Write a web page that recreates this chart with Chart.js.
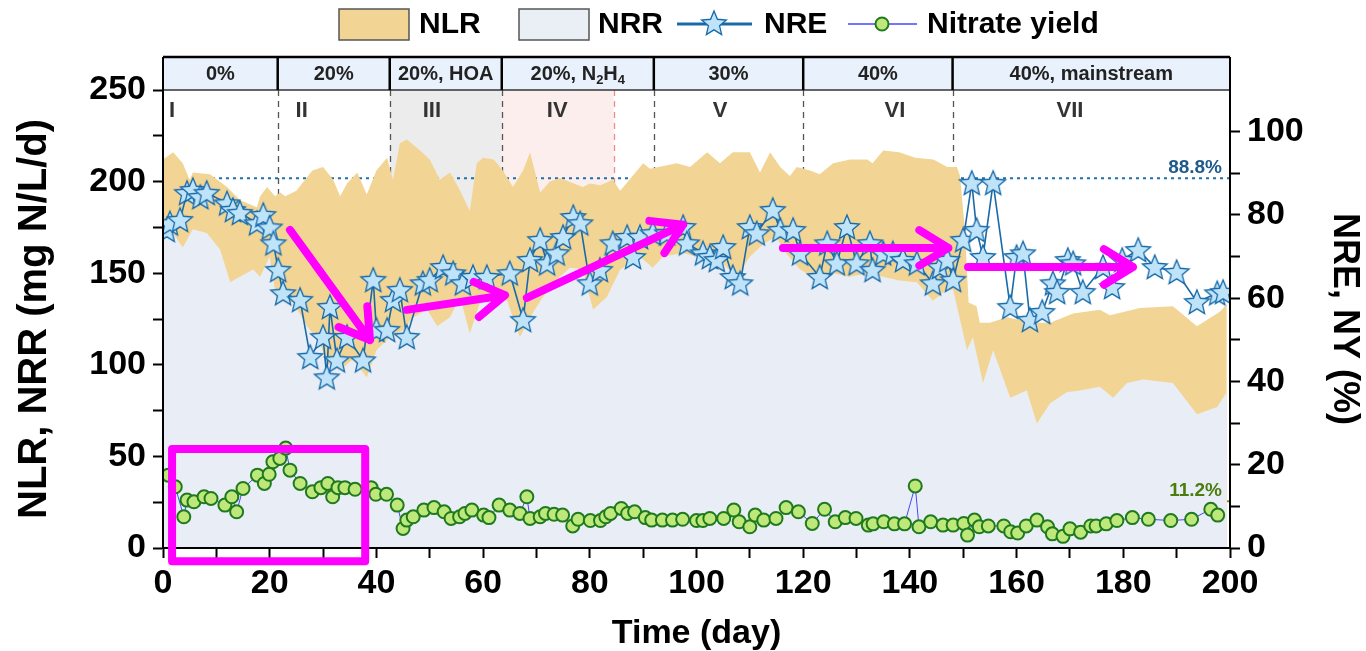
<!DOCTYPE html>
<html>
<head>
<meta charset="utf-8">
<script src="https://cdn.jsdelivr.net/npm/chart.js@4.4.1/dist/chart.umd.min.js"></script>
<style>
  html, body { margin: 0; padding: 0; background: #fff; }
  #wrap { width: 1366px; height: 651px; }
</style>
</head>
<body>
<div id="wrap"><canvas id="chart" width="1366" height="651"></canvas></div>
<script>
const nlrDays = [0,1.9,3.7,5,5.6,8.8,12,14.4,17.6,18.2,19.5,21,22,22.9,25,28,30,31.9,33.2,34.5,36.4,38.2,40,42,43.1,44.4,45.7,48.2,50,51.9,53.8,55.7,57.5,58.8,60,62,63.7,65.6,67.5,68.8,70.7,72.5,74.4,78.7,80,82,84.3,85.7,90,91.3,96.3,98.8,102,104.4,106.8,110,111.9,113.8,115.7,117.5,118.8,121.3,123.1,125.6,128.8,132,133,135,138,141,144.4,147,148.8,149.4,150.3,151,152.5,153.1,155,158.2,161.2,164.4,166.3,170.6,175.6,177.5,183.1,189.3,193.8,198.1,199.4];
const nlrValues = [212,216,210,201,205,204,197,190,186,192,197,192,194,192,195,206,208,201,192,199,205,193,206,213,201,221,223,217,212,201,205,195,184,210,213,212,206,197,206,216,194,200,202,197,199,198,201,195,210,207,210,208,216,210,216,216,205,216,208,203,208,206,204,210,212,212,210,217,216,213,212,208,208,203,174,134,132,123,123,126,124,123,123,128,130,127,131,132,121,129,133];

// NRR (removal rate, mg N/L/d)
const nrrDays = [0,1.9,3.7,5.6,8.2,10.7,12.6,14.4,16.9,18.2,20,21.3,24.4,27,29.4,30.7,33.2,35.6,38.2,40,42.5,45,46.9,49.5,51.4,53.8,55.7,57.5,59.4,62,64.5,66.9,68.8,71.2,74.4,76.3,78.7,80.6,83.2,85.7,89.4,91.8,93.7,97.5,100,102.5,105,107.6,110,112.5,115,116.2,119.4,121.8,125.6,128.8,132,135,138,141.3,144.3,147,148.1,150,150.7,151.8,153.7,155.6,158.8,161.9,163.8,166.3,169.4,171.9,175.6,178.1,180.7,183.7,189.3,193.8,197.6,199.4];
const nrrValues = [168,172,164,174,172,163,145,148,152,148,159,135,134,121,112,101,97,103,93,108,115,119,126,130,121,126,137,117,134,137,135,115,126,137,148,153,152,130,137,152,159,153,159,161,159,157,155,148,159,166,170,163,152,148,150,148,150,148,146,145,135,141,141,117,108,115,90,108,82,86,68,79,85,86,88,82,90,92,90,73,77,85];

// NRE (%)
const nreDays = [0.7,1.3,3.2,4.5,5.6,7,8.2,12,13.1,14.4,17.6,18.8,20,20.7,21.6,22.5,25.7,27.6,30,30.7,31.3,32.6,34.5,37.5,39.4,40,42,43.1,44.4,45.7,48.7,50,52.5,54.4,56.2,58.1,60.7,65,67.5,68.8,70.7,72,73.8,75,76.9,78.2,80,81.9,84.3,87,88.1,89.4,91.8,94.5,97.5,98.2,101.2,102.5,103.8,105,106.8,108.2,110,111.3,114.3,115.7,118.1,119.4,123.1,124.5,126.3,128.2,130,132.5,133,135,136.8,138.7,141.3,144.3,145.6,147,148.1,150,151.6,152.5,153.7,155.6,158.8,160,161.2,162.5,164.8,166.8,167.6,169.6,170.6,172.4,176.2,177.9,179.8,182.8,185.9,190,193.8,197.6,198.7];
const nreValues = [76.4,78,78.8,85.3,86,84.3,85.3,82.8,81.2,80.5,78,80,77,73.2,66.8,61.2,59.6,45.9,50.7,41,57.9,45.1,50.7,45.1,64.4,52.4,52.4,59.6,62,50.7,63.6,64.4,67.5,66,63.6,65.1,65.1,66,54.8,69.2,74,68.4,70.8,74.7,79.5,78,63.6,66.8,73.2,74.7,69.9,74.7,75.6,75.6,77.1,73.2,70.8,69.9,69.2,72.3,65.1,63.6,77.1,75.6,81.2,76.4,76.4,70.8,65.1,73.2,68.4,77.1,68.4,73.2,66.8,70.8,70.8,69.2,68.4,63.6,67.5,69.2,64.4,74,87.7,76.4,69.9,87.7,57.9,69.9,70.8,54.8,56.7,63.6,61.5,69.2,68.4,61.5,67.5,62.7,69.2,71.6,67.5,66.3,59.1,61.2,61.5];

// Nitrate yield (%)
const nyDays = [1,2.3,3.9,4.5,5.8,7.7,9,11.6,12.9,13.8,15,17.7,19,19.9,20.6,21.9,23,23.8,25.7,28,29.6,30.9,31.8,32.8,34.1,36,39,39.9,41.9,43.9,45,45.7,46.9,48.9,50.8,52.7,54,55.6,56.6,57.9,60.1,61.1,63,65,66.9,68.2,68.8,70.7,71.7,73.3,74.9,76.8,77.8,80.1,82,83,83.9,85.9,87.1,88.4,90.4,91.6,93.6,95.5,97.4,100,101.2,102.5,105.1,107,108,110,111,112.6,114.9,116.8,119.1,121.7,124,126,127.9,129.9,132.2,133.1,135.1,137.1,139,141,141.7,143.9,146.2,148.1,150.1,150.8,152.1,153,154.7,157.6,158.9,160.2,161.8,163.8,165.8,166.7,168.7,170,172,173.9,174.9,176.8,178.8,181.7,184.7,188.9,192.8,196.4,197.7];
const nyValues = [17.5,14.7,7.5,11.5,11.1,12.3,11.9,10.3,12.3,8.7,14.3,17.5,15.5,17.7,20.7,21.5,24,18.7,15.5,13.5,14.5,15.5,12.3,14.5,14.5,14.1,14.5,12.9,12.9,10.3,4.7,6.7,7.5,9.1,9.7,8.7,7.1,7.5,8.3,9.1,7.9,7.3,10.3,9.1,8.3,12.3,7.1,7.5,8.3,8.1,7.9,5.3,6.9,6.6,6.6,7.5,8.3,9.5,8.3,8.7,7.3,6.7,6.7,6.7,6.9,6.6,6.6,7.1,7.1,9.1,6.3,5.1,7.9,6.7,7.1,9.7,8.7,5.9,9.3,6.3,7.3,7.1,5.5,5.8,6.3,5.8,5.8,14.9,5.1,6.3,5.5,5.5,5.9,3.1,6.7,5.1,5.3,5.3,3.9,3.6,5.3,6.7,5.1,3.4,2.8,4.6,3.8,5.3,5.3,5.8,6.6,7.3,6.9,6.6,6.9,9.3,7.9];

// operating phases (days) and their labels
const phaseEdges = [0, 21.5, 42.5, 63.5, 92, 120, 148, 200];
const phaseNames = ['0%', '20%', '20%, HOA', '20%, N2H4', '30%', '40%', '40%, mainstream'];
const stageNames = ['I', 'II', 'III', 'IV', 'V', 'VI', 'VII'];
const stageAt = [1.7, 26, 50.4, 73.9, 104.4, 137.2, 170];
const hydrazineEnd = 84.5;
const nreAverage = 88.8;
const nyAverage = 11.2;

const FONT = '"Liberation Sans", Arial, sans-serif';
const HEADER_H = 33;

function pts(xs, ys) {
    return xs.map((d, i) => ({x: d, y: ys[i]}));
}

// filled 5 point star for the NRE markers
function makeStar(r) {
    const c = document.createElement('canvas');
    const s = Math.ceil(r * 2 + 4);
    c.width = s; c.height = s;
    const g = c.getContext('2d');
    g.beginPath();
    for (let i = 0; i < 10; i++) {
        const rad = i % 2 === 0 ? r : r * 0.45;
        const ang = -Math.PI / 2 + i * Math.PI / 5;
        const px = s / 2 + rad * Math.cos(ang);
        const py = s / 2 + 1 + rad * Math.sin(ang);
        if (i === 0) g.moveTo(px, py); else g.lineTo(px, py);
    }
    g.closePath();
    g.fillStyle = '#bfe4fa';
    g.fill();
    g.lineWidth = 1.3;
    g.strokeStyle = '#1769a8';
    g.stroke();
    return c;
}
const starImg = makeStar(13);

function arrow(ctx, x1, y1, x2, y2) {
    const a = Math.atan2(y2 - y1, x2 - x1);
    const h = 34;
    ctx.beginPath();
    ctx.moveTo(x1, y1);
    ctx.lineTo(x2, y2);
    ctx.moveTo(x2 - h * Math.cos(a - 0.55), y2 - h * Math.sin(a - 0.55));
    ctx.lineTo(x2, y2);
    ctx.lineTo(x2 - h * Math.cos(a + 0.55), y2 - h * Math.sin(a + 0.55));
    ctx.stroke();
}

const decor = {
    id: 'decor',
    beforeDraw(chart) {
        const {ctx, chartArea: a, scales: {x}} = chart;
        ctx.save();
        // HOA and N2H4 shaded periods
        ctx.fillStyle = '#ececec';
        ctx.fillRect(x.getPixelForValue(42.5), a.top, x.getPixelForValue(63.5) - x.getPixelForValue(42.5), a.bottom - a.top);
        ctx.fillStyle = '#fdeeee';
        ctx.fillRect(x.getPixelForValue(63.5), a.top, x.getPixelForValue(hydrazineEnd) - x.getPixelForValue(63.5), a.bottom - a.top);
        ctx.restore();
    },
    beforeDatasetsDraw(chart) {
        const {ctx, chartArea: a, scales: {x, y2}} = chart;
        ctx.save();
        ctx.lineWidth = 1.3;
        ctx.setLineDash([6, 5]);
        ctx.strokeStyle = '#555';
        for (let i = 1; i < phaseEdges.length - 1; i++) {
            const px = Math.round(x.getPixelForValue(phaseEdges[i])) + 0.5;
            ctx.beginPath(); ctx.moveTo(px, a.top); ctx.lineTo(px, a.bottom); ctx.stroke();
        }
        ctx.strokeStyle = '#f08a8a';
        const rx = Math.round(x.getPixelForValue(hydrazineEnd)) + 0.5;
        ctx.beginPath(); ctx.moveTo(rx, a.top); ctx.lineTo(rx, a.bottom); ctx.stroke();

        // average lines
        ctx.lineWidth = 2;
        ctx.setLineDash([3, 4]);
        ctx.strokeStyle = '#1f6fa8';
        let py = y2.getPixelForValue(nreAverage);
        ctx.beginPath(); ctx.moveTo(a.left, py); ctx.lineTo(a.right, py); ctx.stroke();
        ctx.strokeStyle = '#6e9e1c';
        py = y2.getPixelForValue(nyAverage);
        ctx.beginPath(); ctx.moveTo(a.left, py); ctx.lineTo(a.right, py); ctx.stroke();
        ctx.restore();
    },
    afterDatasetsDraw(chart) {
        const {ctx, chartArea: a, scales: {x, y, y2}} = chart;
        ctx.save();
        // labels of the average lines
        ctx.font = 'bold 19px ' + FONT;
        ctx.textAlign = 'right';
        ctx.textBaseline = 'middle';
        ctx.fillStyle = '#1e5a8a';
        ctx.fillText(nreAverage.toFixed(1) + '%', a.right - 8, y2.getPixelForValue(nreAverage) - 11);
        ctx.fillStyle = '#4a7d0c';
        ctx.fillText(nyAverage.toFixed(1) + '%', a.right - 8, y2.getPixelForValue(nyAverage) - 11);

        // header band with the phase names
        const top = a.top - HEADER_H;
        ctx.fillStyle = '#e9f2fc';
        ctx.fillRect(a.left, top, a.right - a.left, HEADER_H);
        ctx.strokeStyle = '#333';
        ctx.lineWidth = 1.5;
        ctx.beginPath(); ctx.moveTo(a.left, a.top); ctx.lineTo(a.right, a.top); ctx.stroke();
        ctx.strokeStyle = '#000';
        ctx.lineWidth = 2.5;
        ctx.beginPath(); ctx.moveTo(a.left, top); ctx.lineTo(a.right, top); ctx.stroke();
        for (let i = 1; i < phaseEdges.length - 1; i++) {
            const px = x.getPixelForValue(phaseEdges[i]);
            ctx.beginPath(); ctx.moveTo(px, top); ctx.lineTo(px, a.top); ctx.stroke();
        }
        // plot frame
        ctx.lineWidth = 2;
        ctx.beginPath();
        ctx.moveTo(a.left, top); ctx.lineTo(a.left, a.bottom); ctx.lineTo(a.right, a.bottom); ctx.lineTo(a.right, top);
        ctx.stroke();

        ctx.fillStyle = '#222';
        ctx.textAlign = 'left';
        const midY = top + HEADER_H / 2 + 1;
        phaseNames.forEach((name, i) => {
            const cx = (x.getPixelForValue(phaseEdges[i]) + x.getPixelForValue(phaseEdges[i + 1])) / 2;
            const big = 'bold 20px ' + FONT, small = 'bold 13px ' + FONT;
            // N2H4 gets subscripts
            const parts = name === '20%, N2H4'
                ? [['20%, N', big, 0], ['2', small, 6], ['H', big, 0], ['4', small, 6]]
                : [[name, big, 0]];
            let w = 0;
            parts.forEach(p => { ctx.font = p[1]; w += ctx.measureText(p[0]).width; });
            let px = cx - w / 2;
            parts.forEach(p => {
                ctx.font = p[1];
                ctx.fillText(p[0], px, midY + p[2]);
                px += ctx.measureText(p[0]).width;
            });
        });

        // stage numerals
        ctx.font = 'bold 22px ' + FONT;
        ctx.fillStyle = '#333';
        ctx.textAlign = 'center';
        stageNames.forEach((s, i) => {
            ctx.fillText(s, x.getPixelForValue(stageAt[i]), a.top + 21);
        });

        // magenta trend arrows and highlight box
        ctx.strokeStyle = '#ff00ff';
        ctx.lineWidth = 8;
        ctx.lineCap = 'round';
        ctx.lineJoin = 'round';
        const trends = [[23.8, 173.6, 38.8, 113.5], [45.7, 130, 64.1, 138], [68.2, 136.5, 97.5, 176.5], [116.2, 163.8, 147.2, 163.8], [150.9, 153.4, 181.8, 153.4]];
        trends.forEach(t => arrow(ctx, x.getPixelForValue(t[0]), y.getPixelForValue(t[1]), x.getPixelForValue(t[2]), y.getPixelForValue(t[3])));
        const bx1 = x.getPixelForValue(1.7), bx2 = x.getPixelForValue(37.9);
        const by1 = y.getPixelForValue(54), by2 = y.getPixelForValue(-7.3);
        ctx.strokeRect(bx1, by1, bx2 - bx1, by2 - by1);
        ctx.restore();
    },
    afterDraw(chart) {
        // legend: NLR box, NRR box, NRE line+star, Nitrate yield line+circle
        const ctx = chart.ctx;
        const ly = 24;
        ctx.save();
        ctx.font = 'bold 30px ' + FONT;
        ctx.textBaseline = 'middle';
        ctx.lineWidth = 1.5;
        ctx.strokeStyle = '#555';
        ctx.fillStyle = '#f2d595';
        ctx.fillRect(339, 9, 70, 31); ctx.strokeRect(339, 9, 70, 31);
        ctx.fillStyle = '#eaeff6';
        ctx.fillRect(519, 9, 70, 31); ctx.strokeRect(519, 9, 70, 31);
        ctx.strokeStyle = '#1a6aa8';
        ctx.lineWidth = 3;
        ctx.beginPath(); ctx.moveTo(677, ly); ctx.lineTo(752, ly); ctx.stroke();
        ctx.drawImage(starImg, 714 - starImg.width / 2, ly - starImg.height / 2 - 1);
        ctx.strokeStyle = '#4646ff';
        ctx.lineWidth = 1.5;
        ctx.beginPath(); ctx.moveTo(848, ly); ctx.lineTo(917, ly); ctx.stroke();
        ctx.beginPath(); ctx.arc(882, ly, 6.5, 0, Math.PI * 2);
        ctx.fillStyle = '#bfe87a'; ctx.fill();
        ctx.strokeStyle = '#1f7a1f'; ctx.lineWidth = 2; ctx.stroke();
        ctx.fillStyle = '#000';
        ctx.fillText('NLR', 419, ly + 1);
        ctx.fillText('NRR', 598, ly + 1);
        ctx.fillText('NRE', 764, ly + 1);
        ctx.fillText('Nitrate yield', 927, ly + 1);
        ctx.restore();
    }
};

const tickFont = {family: FONT, size: 34, weight: 'bold'};
const tickMarks = {drawOnChartArea: false, color: '#000', tickLength: 10, tickWidth: 2};

new Chart(document.getElementById('chart'), {
    type: 'line',
    data: {
        datasets: [
            {
                label: 'NLR', data: pts(nlrDays, nlrValues), yAxisID: 'y', order: 3,
                fill: 'origin', backgroundColor: '#f2d595', borderWidth: 0, pointRadius: 0, tension: 0
            },
            {
                label: 'NRR', data: pts(nrrDays, nrrValues), yAxisID: 'y', order: 2,
                fill: 'origin', backgroundColor: '#e9eef6', borderWidth: 0, pointRadius: 0, tension: 0
            },
            {
                label: 'NRE', data: pts(nreDays, nreValues), yAxisID: 'y2', order: 0,
                borderColor: '#1a6aa8', borderWidth: 1.6, fill: false, tension: 0,
                pointStyle: starImg, pointRadius: 12
            },
            {
                label: 'Nitrate yield', data: pts(nyDays, nyValues), yAxisID: 'y2', order: 1,
                borderColor: '#4646ff', borderWidth: 1, fill: false, tension: 0,
                pointStyle: 'circle', pointRadius: 6.5, pointBackgroundColor: '#bfe87a',
                pointBorderColor: '#1f7a1f', pointBorderWidth: 2
            }
        ]
    },
    options: {
        responsive: false,
        animation: false,
        devicePixelRatio: 1,
        layout: {padding: {top: 90, left: 0, right: 0, bottom: 0}},
        plugins: {
            legend: {display: false},
            tooltip: {enabled: false}
        },
        scales: {
            x: {
                type: 'linear', min: 0, max: 200,
                ticks: {stepSize: 10, autoSkip: false, maxRotation: 0, color: '#000', font: tickFont, padding: 5,
                    callback: v => v % 20 === 0 ? v : ''},
                grid: tickMarks,
                border: {color: '#000', width: 2},
                title: {display: true, text: 'Time (day)', color: '#000', font: {family: FONT, size: 34, weight: 'bold'}, padding: {top: 0, bottom: -3}},
                afterFit(s) { s.height = 103; }
            },
            y: {
                position: 'left', min: 0, max: 250,
                ticks: {stepSize: 25, autoSkip: false, color: '#000', font: tickFont, padding: 7,
                    callback: v => v % 50 === 0 ? v : ''},
                grid: tickMarks,
                border: {color: '#000', width: 2},
                title: {display: true, text: 'NLR, NRR (mg N/L/d)', color: '#000', font: {family: FONT, size: 40, weight: 'bold'}, padding: {top: 11, bottom: 0}},
                afterFit(s) { s.width = 163; }
            },
            y2: {
                position: 'right', min: 0, max: 110,
                ticks: {stepSize: 10, autoSkip: false, color: '#000', font: tickFont, padding: 7,
                    callback: v => (v % 20 === 0 && v <= 100) ? v : ''},
                grid: {drawOnChartArea: false, tickLength: 10, tickWidth: 2,
                    color: c => (c.tick && c.tick.value > 100) ? 'rgba(0,0,0,0)' : '#000'},
                border: {color: '#000', width: 2},
                title: {display: true, text: 'NRE, NY (%)', color: '#000', font: {family: FONT, size: 36, weight: 'bold'}, padding: {top: 0, bottom: 0}},
                afterFit(s) { s.width = 136; }
            }
        }
    },
    plugins: [decor]
});
</script>
</body>
</html>
